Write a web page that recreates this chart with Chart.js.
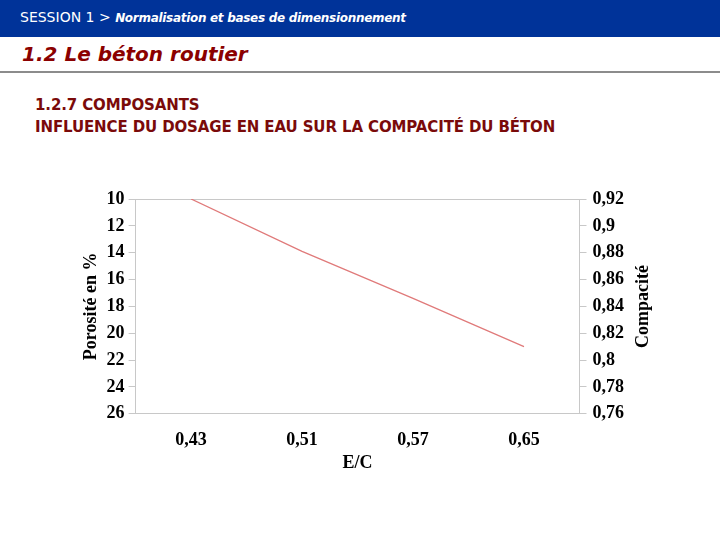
<!DOCTYPE html>
<html>
<head>
<meta charset="utf-8">
<script src="https://cdn.jsdelivr.net/npm/chart.js@4"></script>
<style>
  html, body { margin: 0; padding: 0; background: #fff; }
  body { width: 720px; height: 540px; position: relative; overflow: hidden; font-family: "DejaVu Sans", sans-serif; }
  .bar { position: absolute; left: 0; top: 0; width: 720px; height: 37px; background: #003399; }
  .bar span { position: absolute; left: 20px; top: 9px; color: #fff; font-size: 14px; white-space: nowrap; }
  .bar i { font-weight: bold; font-size: 12px; letter-spacing: -0.3px; }
  .title { position: absolute; left: 22px; top: 42px; color: #8b0000; font-size: 20px; font-weight: bold; font-style: italic; white-space: nowrap; }
  .rule { position: absolute; left: 0; top: 71px; width: 720px; height: 2px; background: #8c8c8c; }
  .sub { position: absolute; left: 35px; top: 94px; color: #7a0a0a; font-size: 15px; font-weight: bold; letter-spacing: -0.12px; line-height: 22px; white-space: nowrap; }
  #wrap { position: absolute; left: 0; top: 0; width: 720px; height: 540px; }
</style>
</head>
<body>
<div class="bar"><span>SESSION 1 &gt; <i>Normalisation et bases de dimensionnement</i></span></div>
<div class="title">1.2 Le béton routier</div>
<div class="rule"></div>
<div class="sub">1.2.7 COMPOSANTS<br>INFLUENCE DU DOSAGE EN EAU SUR LA COMPACITÉ DU BÉTON</div>
<div id="wrap"><canvas id="lineChart"></canvas></div>
<script>
const ratios = ["0,43", "0,51", "0,57", "0,65"];
const porosity = [10, 13.9, 17.4, 21.0];

const leftRange = [10, 26];
const rightRange = [0.76, 0.92];
const rightTitle = "Compacité";

const axisFont = { family: "Liberation Serif", size: 18, weight: "bold" };
const lineGrey = "#c8c8c8";

const comma = v => parseFloat(Number(v).toFixed(2)).toString().replace(".", ",");

// right axis title reads bottom-to-top, like the left one
const rightTitlePlugin = {
    id: "rightTitle",
    afterDraw(chart) {
        const s = chart.scales.y2;
        const c = chart.ctx;
        c.save();
        c.translate(s.right + 13, (s.top + s.bottom) / 2);
        c.rotate(-Math.PI / 2);
        c.font = "bold 18px 'Liberation Serif'";
        c.fillStyle = "#000";
        c.textAlign = "center";
        c.textBaseline = "middle";
        c.fillText(rightTitle, 0, 0);
        c.restore();
    }
};

const data = {
    labels: ratios,
    datasets: [{
        data: porosity,
        yAxisID: "y",
        borderColor: "#e07a7a",
        borderWidth: 1.3,
        pointRadius: 0,
        tension: 0,
        fill: false
    }]
}

const options = {
    animation: false,
    responsive: true,
    maintainAspectRatio: false,
    layout: { padding: { left: 77, right: 90, top: 199, bottom: 66 } },
    plugins: {
        legend: { display: false },
        tooltip: { enabled: false }
    },
    scales: {
        x: {
            offset: true,
            grid: { display: false, drawTicks: false },
            border: { display: true, color: lineGrey },
            ticks: { color: "#000", font: axisFont, padding: 16 },
            title: { display: true, text: "E/C", color: "#000", font: axisFont, padding: { top: -15, bottom: 0 } }
        },
        y: {
            position: "left",
            reverse: true,
            min: leftRange[0],
            max: leftRange[1],
            ticks: { stepSize: 2, color: "#000", font: axisFont, padding: 4 },
            grid: {
                // only the top edge of the plot box
                color: ctx => ctx.tick && ctx.tick.value === leftRange[0] ? lineGrey : "rgba(0,0,0,0)",
                tickColor: lineGrey,
                tickLength: 7
            },
            border: { display: true, color: lineGrey },
            title: { display: true, text: "Porosité en %", color: "#000", font: axisFont, padding: { top: 4, bottom: 0 } }
        },
        y2: {
            position: "right",
            min: rightRange[0],
            max: rightRange[1],
            ticks: { stepSize: 0.02, color: "#000", font: axisFont, padding: 6, callback: v => comma(v) },
            grid: { drawOnChartArea: false, tickColor: lineGrey, tickLength: 7 },
            border: { display: true, color: lineGrey }
        }
    }
}

const ctx = document.getElementById("lineChart");
new Chart(ctx, { type: "line", data, options, plugins: [rightTitlePlugin] });
</script>
</body>
</html>
